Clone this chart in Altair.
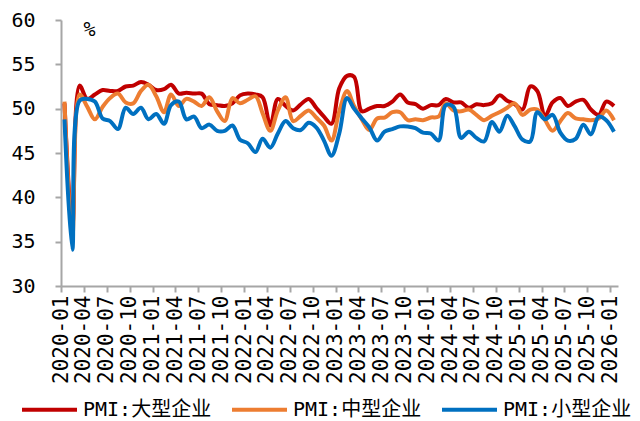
import altair as alt
import pandas as pd

# Monthly categories 2020-01 .. 2026-01
months = [f"{2020 + i // 12}-{i % 12 + 1:02d}" for i in range(73)]

series_names = ["PMI:大型企业", "PMI:中型企业", "PMI:小型企业"]
series_colors = ["#C00000", "#ED7D31", "#0070C0"]

large = [50.6, 36.7, 52.6, 51.1, 51.6, 52.1, 52.0, 52.0, 52.5, 52.6, 53.0, 52.7,
         52.1, 52.2, 52.7, 51.7, 51.8, 51.7, 51.7, 50.5, 50.4, 50.3, 50.6, 51.5,
         51.7, 51.6, 51.3, 48.1, 51.1, 50.3, 49.8, 50.5, 51.1, 50.1, 49.1, 48.3,
         52.3, 53.7, 53.6, 49.7, 50.0, 50.3, 50.3, 50.8, 51.6, 50.7, 50.5, 50.0,
         50.4, 50.4, 51.1, 50.7, 50.7, 50.1, 50.5, 50.4, 50.6, 51.5, 50.9, 50.5,
         49.9, 52.5, 52.0, 49.2, 50.7, 51.2, 50.3, 50.8, 51.0, 49.9, 49.3, 50.8,
         50.3]
medium = [50.8, 35.5, 51.6, 50.2, 48.8, 50.2, 51.2, 51.7, 50.7, 50.6, 52.0, 52.7,
          51.4, 49.6, 51.6, 50.3, 51.1, 50.8, 50.3, 51.3, 49.7, 48.6, 51.2, 50.6,
          51.0, 51.4, 49.5, 47.5, 49.8, 51.3, 48.6, 49.2, 49.8, 49.0, 48.1, 46.4,
          49.7, 52.0, 50.3, 48.8, 47.6, 48.9, 49.0, 49.6, 49.6, 48.7, 48.8, 48.7,
          49.0, 49.1, 50.6, 49.8, 49.7, 49.9, 49.3, 48.7, 49.2, 49.6, 50.1, 50.6,
          49.3, 49.9, 49.9, 48.7, 47.5, 48.6, 49.5, 48.9, 48.8, 48.7, 48.9, 49.8,
          48.7]
small = [48.8, 34.1, 50.9, 51.1, 50.8, 48.9, 48.6, 47.7, 50.1, 49.4, 50.1, 48.8,
         49.4, 48.3, 50.4, 50.8, 48.8, 49.1, 47.8, 48.2, 47.5, 47.5, 48.1, 46.5,
         46.1, 45.1, 46.6, 45.6, 47.2, 48.6, 47.8, 47.6, 48.4, 47.9, 46.4, 44.7,
         47.2, 51.2, 50.0, 48.9, 47.9, 46.4, 47.4, 47.7, 48.0, 48.0, 47.8, 47.3,
         47.2, 46.4, 50.4, 50.2, 46.7, 47.4, 46.7, 46.3, 48.5, 47.4, 49.2, 48.0,
         46.5, 46.3, 49.6, 48.8, 49.3, 47.3, 46.4, 46.6, 48.2, 47.1, 49.1, 48.7,
         47.4]

y_ticks = [30, 35, 40, 45, 50, 55, 60]
unit_label = ["%"]

rows = []
for name, vals in zip(series_names, [large, medium, small]):
    for m, v in zip(months, vals):
        rows.append({"date": m + "-15", "series": name, "value": v})
df = pd.DataFrame(rows)


def ms(s):
    return int(pd.Timestamp(s, tz="UTC").timestamp() * 1000)


tick_vals = [ms(m + "-01") for m in months[::3]]
x_domain = [ms("2020-01-01"), ms("2026-01-31")]

MONO = "DejaVu Sans Mono, Noto Sans CJK SC, sans-serif"
AXIS_GRAY = "#A6A6A6"

x_axis = alt.Axis(
    values=tick_vals, labelExpr="utcFormat(datum.value, '%Y-%m')",
    labelAngle=-90, labelAlign="right", labelBaseline="middle",
    title=None, grid=False, tickSize=6, labelPadding=3,
    labelFont=MONO, labelFontSize=21, labelColor="#000000",
    domainColor=AXIS_GRAY, tickColor=AXIS_GRAY, domainWidth=2, tickWidth=2,
    labelOverlap=False, labelFlush=False, labelSeparation=0,
)
y_axis = alt.Axis(
    values=y_ticks, title=None, grid=False, tickSize=6, labelPadding=20,
    labelFont=MONO, labelFontSize=20, labelColor="#000000",
    domainColor=AXIS_GRAY, tickColor=AXIS_GRAY, domainWidth=2, tickWidth=2,
)
x_scale = alt.Scale(type="utc", domain=x_domain)
y_scale = alt.Scale(domain=[30, 60], nice=False, zero=False)

lines = alt.Chart(df).mark_line(
    interpolate="catmull-rom", strokeWidth=4
).encode(
    x=alt.X("date:T", scale=x_scale, axis=x_axis),
    y=alt.Y("value:Q", scale=y_scale, axis=y_axis),
    color=alt.Color(
        "series:N",
        sort=series_names,
        scale=alt.Scale(domain=series_names, range=series_colors),
        legend=alt.Legend(
            title=None, orient="none", direction="horizontal",
            legendX=-41, legendY=360,
            symbolType="stroke", symbolSize=3025, symbolStrokeWidth=4,
            labelFont=MONO, labelFontSize=20, labelColor="#000000",
            labelOffset=4, columnPadding=12, padding=0, labelLimit=300,
        ),
    ),
)

unit_df = pd.DataFrame({"date": ["2020-04-24"], "value": [58.9], "t": unit_label})
unit = alt.Chart(unit_df).mark_text(
    font=MONO, fontSize=20, color="#000000"
).encode(
    x=alt.X("date:T", scale=x_scale, axis=x_axis),
    y=alt.Y("value:Q", scale=y_scale, axis=y_axis),
    text="t:N",
)

chart = alt.layer(lines, unit).properties(
    width=557, height=266,
    autosize=alt.AutoSizeParams(type="none"),
    padding={"left": 53, "top": 12, "right": 14, "bottom": 134},
).configure_view(stroke=None)

chart.save("out.html", embed_options={"renderer": "svg", "actions": False})
